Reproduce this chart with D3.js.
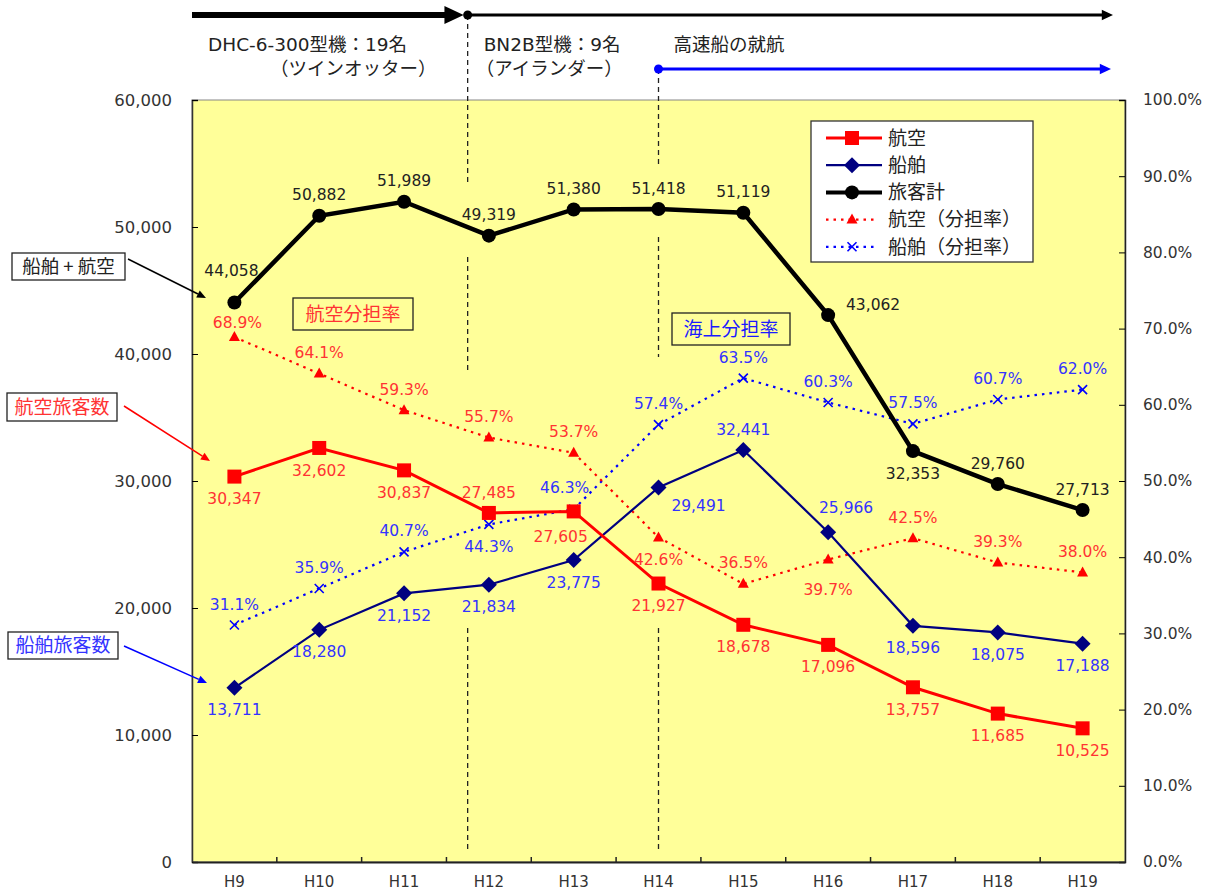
<!DOCTYPE html>
<html>
<head>
<meta charset="utf-8">
<script src="https://cdn.jsdelivr.net/npm/d3@7"></script>
<style>
  body { margin: 0; background: #fff; }
  svg text { font-family: "DejaVu Sans", sans-serif; }
  .jp { font-family: "Noto Sans CJK JP", sans-serif; }
  .mix { font-family: "DejaVu Sans", "Noto Sans CJK JP", sans-serif; }
</style>
</head>
<body>
<svg id="chart" width="1206" height="890"></svg>
<script>
// data
const years = ['H9','H10','H11','H12','H13','H14','H15','H16','H17','H18','H19']
const air = [30347, 32602, 30837, 27485, 27605, 21927, 18678, 17096, 13757, 11685, 10525]
const sea = [13711, 18280, 21152, 21834, 23775, 29491, 32441, 25966, 18596, 18075, 17188]
const total = [44058, 50882, 51989, 49319, 51380, 51418, 51119, 43062, 32353, 29760, 27713]
const airShare = [68.9, 64.1, 59.3, 55.7, 53.7, 42.6, 36.5, 39.7, 42.5, 39.3, 38.0]
const seaShare = [31.1, 35.9, 40.7, 44.3, 46.3, 57.4, 63.5, 60.3, 57.5, 60.7, 62.0]
const leftTicks = [0, 10000, 20000, 30000, 40000, 50000, 60000]
const rightTicks = [0, 10, 20, 30, 40, 50, 60, 70, 80, 90, 100]
const legendNames = ['航空', '船舶', '旅客計', '航空（分担率）', '船舶（分担率）']

// where each value label sits relative to its point
const airPos = ['b','b','b','a','bl','b','b','b','b','b','b']
const seaPos = ['b','b','b','b','b','br','a','ar','b','b','b']
const totalPos = ['aa','a','a','a','a','a','a','r','b','a','a']
const airSharePos = ['a2','a','a','a','a','b','a','bb','a','a','a']
const seaSharePos = ['a','a','a','b','al','a','a','a','a','a','a']
const off = {a:[0,-21], a2:[3,-15], b:[0,22], bl:[-13,25], aa:[-3,-32], bb:[0,30], br:[40,18], ar:[18,-25], r:[45,-11], al:[-9,-22]}

const svg = d3.select('#chart')
const L = 192, R = 1125, T = 100, B = 862

const x = d3.scaleBand().domain(years).range([L, R]).padding(0)
const cx = d => x(d) + x.bandwidth() / 2
const y = d3.scaleLinear().domain([0, 60000]).range([B, T])
const y2 = d3.scaleLinear().domain([0, 100]).range([B, T])

const RED = '#ff0000', NAVY = '#000080', LRED = '#ff3333', LBLUE = '#3333ff'

// plot area
svg.append('rect').attr('x', L).attr('y', T).attr('width', R - L).attr('height', B - T)
  .attr('fill', '#ffff99').attr('stroke', '#888').attr('stroke-width', 1)

// axes
const gl = svg.append('g').attr('transform', `translate(${L},0)`)
  .call(d3.axisLeft(y).tickValues(leftTicks).tickSize(-6).tickPadding(20).tickFormat(d3.format(',')))
gl.select('.domain').attr('stroke', '#333').attr('stroke-width', 1.5)
gl.selectAll('text').attr('font-size', 16.5).attr('fill', '#333')

const gr = svg.append('g').attr('transform', `translate(${R},0)`)
  .call(d3.axisRight(y2).tickValues(rightTicks).tickSize(-6).tickPadding(18).tickFormat(d => d.toFixed(1) + '%'))
gr.select('.domain').attr('stroke', '#222').attr('stroke-width', 1.5)
gr.selectAll('text').attr('font-size', 15.5).attr('fill', '#333')

const gb = svg.append('g').attr('transform', `translate(0,${B})`)
  .call(d3.axisBottom(x).tickSize(0).tickPadding(14))
gb.select('.domain').attr('stroke', '#222').attr('stroke-width', 2)
gb.selectAll('text').attr('font-size', 15).attr('fill', '#333')
// ticks between categories
svg.append('g').selectAll('line').data(years.slice(1)).join('line')
  .attr('x1', d => x(d)).attr('x2', d => x(d)).attr('y1', B).attr('y2', B - 5)
  .attr('stroke', '#222').attr('stroke-width', 1.5)

// dashed guides
const xA = cx('H12') - x.bandwidth() * 0.25
const xB = cx('H14')
const dashSegs = [[xA, 15, 183], [xA, 257, 372], [xA, 628, 852], [xB, 69, 167], [xB, 237, 357], [xB, 628, 852]]
svg.append('g').selectAll('line').data(dashSegs).join('line')
  .attr('x1', d => d[0]).attr('x2', d => d[0]).attr('y1', d => d[1]).attr('y2', d => d[2])
  .attr('stroke', '#222').attr('stroke-width', 1.3).attr('stroke-dasharray', '5,4')

// top timeline arrows
function arrow(x1, x2, yy, w, col, head) {
  svg.append('line').attr('x1', x1).attr('x2', x2 - head * 1.4).attr('y1', yy).attr('y2', yy)
    .attr('stroke', col).attr('stroke-width', w)
  svg.append('path').attr('d', `M${x2},${yy} L${x2 - head * 1.6},${yy - head * 0.75} L${x2 - head * 1.6},${yy + head * 0.75} Z`)
    .attr('fill', col)
}
arrow(L, xA - 4, 15, 6, '#000', 12)
arrow(xA, 1113, 15, 3, '#000', 7)
svg.append('circle').attr('cx', xA).attr('cy', 15).attr('r', 4.5).attr('fill', '#000')
arrow(xB, 1111, 69, 3, '#0000ff', 7)
svg.append('circle').attr('cx', xB).attr('cy', 69).attr('r', 4.5).attr('fill', '#0000ff')

const topText = [['DHC-6-300型機：19名', 208, 51], ['（ツインオッター）', 270, 75], ['BN2B型機：9名', xA + 16, 51], ['（アイランダー）', xA + 8, 75], ['高速船の就航', xB + 15, 51]]
svg.append('g').selectAll('text').data(topText).join('text').attr('class', 'mix')
  .attr('x', d => d[1]).attr('y', d => d[2]).attr('font-size', 18.5).attr('fill', '#222').text(d => d[0])

// boxed notes
function note(txt, x0, y0, w, h, col, fs) {
  svg.append('rect').attr('x', x0).attr('y', y0).attr('width', w).attr('height', h)
    .attr('fill', 'none').attr('stroke', '#222').attr('stroke-width', 1.3)
  svg.append('text').attr('class', 'jp').attr('x', x0 + w / 2).attr('y', y0 + h / 2).attr('dy', '0.36em')
    .attr('text-anchor', 'middle').attr('font-size', fs).attr('fill', col).text(txt)
}
function pointer(x1, y1, x2, y2, col) {
  const a = Math.atan2(y2 - y1, x2 - x1), h = 9
  svg.append('line').attr('x1', x1).attr('y1', y1).attr('x2', x2 - Math.cos(a) * h).attr('y2', y2 - Math.sin(a) * h)
    .attr('stroke', col).attr('stroke-width', 1.5)
  const p = [[x2, y2], [x2 - Math.cos(a) * h - Math.sin(a) * 4, y2 - Math.sin(a) * h + Math.cos(a) * 4],
    [x2 - Math.cos(a) * h + Math.sin(a) * 4, y2 - Math.sin(a) * h - Math.cos(a) * 4]]
  svg.append('path').attr('d', 'M' + p.join('L') + 'Z').attr('fill', col)
}
note('船舶 + 航空', 12, 253, 113, 27, '#222', 18.5)
pointer(128, 259, 206, 298, '#000')
note('航空旅客数', 7, 393, 110, 28, LRED, 19)
pointer(124, 406, 210, 461, RED)
note('船舶旅客数', 8, 632, 110, 27, LBLUE, 19)
pointer(124, 646, 207, 683, '#0000ff')

svg.append('rect').attr('x', 293).attr('y', 298).attr('width', 120).attr('height', 32).attr('fill', '#ffff99').attr('stroke', '#222').attr('stroke-width', 1.3)
svg.append('text').attr('class', 'jp').attr('x', 353).attr('y', 314).attr('dy', '0.36em').attr('text-anchor', 'middle').attr('font-size', 19).attr('fill', LRED).text('航空分担率')
svg.append('rect').attr('x', 672).attr('y', 313).attr('width', 118).attr('height', 32).attr('fill', '#ffff99').attr('stroke', '#222').attr('stroke-width', 1.3)
svg.append('text').attr('class', 'jp').attr('x', 731).attr('y', 329).attr('dy', '0.36em').attr('text-anchor', 'middle').attr('font-size', 19).attr('fill', '#1a1aff').text('海上分担率')

// markers
function marker(g, kind, px, py) {
  if (kind == 'sq') g.append('rect').attr('x', px - 7).attr('y', py - 7).attr('width', 14).attr('height', 14).attr('fill', RED)
  if (kind == 'dia') g.append('path').attr('d', `M${px},${py - 8}L${px + 8},${py}L${px},${py + 8}L${px - 8},${py}Z`).attr('fill', NAVY)
  if (kind == 'dot') g.append('circle').attr('cx', px).attr('cy', py).attr('r', 7).attr('fill', '#000')
  if (kind == 'tri') g.append('path').attr('d', `M${px},${py - 6}L${px + 5.5},${py + 4}L${px - 5.5},${py + 4}Z`).attr('fill', RED)
  if (kind == 'x') g.append('path').attr('d', `M${px - 4.5},${py - 4.5}L${px + 4.5},${py + 4.5}M${px + 4.5},${py - 4.5}L${px - 4.5},${py + 4.5}`)
    .attr('stroke', '#0000ff').attr('stroke-width', 1.6)
}

const series = [
  {vals: seaShare, sc: y2, col: '#0000ff', w: 2.2, dash: '2.5,5', mk: 'x', lab: LBLUE, pos: seaSharePos, fmt: d => d.toFixed(1) + '%'},
  {vals: airShare, sc: y2, col: RED, w: 2.2, dash: '2.5,5', mk: 'tri', lab: LRED, pos: airSharePos, fmt: d => d.toFixed(1) + '%'},
  {vals: sea, sc: y, col: NAVY, w: 2.2, dash: null, mk: 'dia', lab: LBLUE, pos: seaPos, fmt: d3.format(',')},
  {vals: air, sc: y, col: RED, w: 3, dash: null, mk: 'sq', lab: LRED, pos: airPos, fmt: d3.format(',')},
  {vals: total, sc: y, col: '#000', w: 4.5, dash: null, mk: 'dot', lab: '#222', pos: totalPos, fmt: d3.format(',')}
]

series.forEach(s => {
  const line = d3.line().x((d, i) => cx(years[i])).y(d => s.sc(d))
  svg.append('path').datum(s.vals).attr('d', line).attr('fill', 'none')
    .attr('stroke', s.col).attr('stroke-width', s.w).attr('stroke-dasharray', s.dash)
  const g = svg.append('g')
  s.vals.forEach((v, i) => marker(g, s.mk, cx(years[i]), s.sc(v)))
})
series.forEach(s => {
  svg.append('g').selectAll('text').data(s.vals).join('text')
    .attr('x', (d, i) => cx(years[i]) + off[s.pos[i]][0])
    .attr('y', (d, i) => s.sc(d) + off[s.pos[i]][1])
    .attr('dy', '0.36em').attr('text-anchor', 'middle')
    .attr('font-size', 15.5).attr('fill', s.lab).text(d => s.fmt(d))
})

// legend
const lg = svg.append('g')
lg.append('rect').attr('x', 811).attr('y', 121).attr('width', 222).attr('height', 141)
  .attr('fill', '#fff').attr('stroke', '#333').attr('stroke-width', 1.3)
const legendSeries = [series[3], series[2], series[4], series[1], series[0]]
legendNames.forEach((n, i) => {
  const s = legendSeries[i], ly = 138 + i * 27.2
  lg.append('line').attr('x1', 826).attr('x2', s.dash ? 876 : 882).attr('y1', ly).attr('y2', ly)
    .attr('stroke', s.col).attr('stroke-width', s.dash ? 2.2 : Math.min(s.w, 4)).attr('stroke-dasharray', s.dash)
  marker(lg, s.mk, 852, ly)
  lg.append('text').attr('class', 'jp').attr('x', 888).attr('y', ly).attr('dy', '0.36em')
    .attr('font-size', 19).attr('fill', '#222').text(n)
})
</script>
</body>
</html>
